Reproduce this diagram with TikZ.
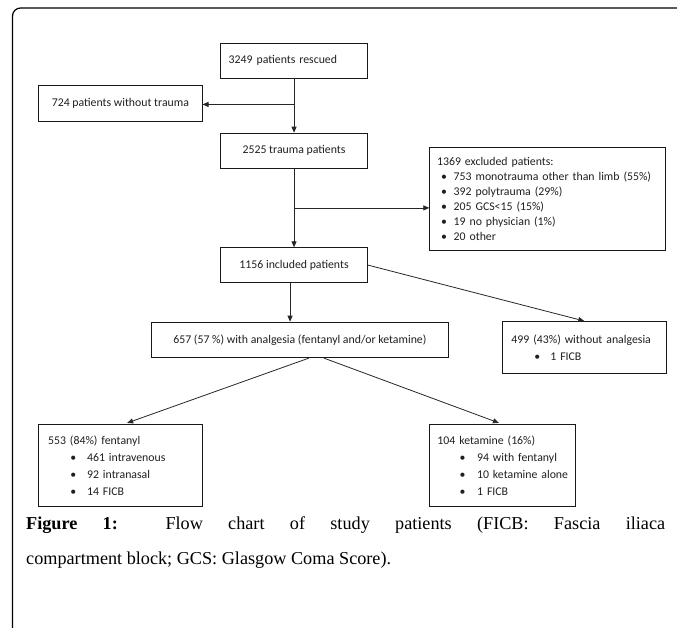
\documentclass[tikz,border=0pt]{standalone}
\usepackage{fontspec}
\setmainfont{Liberation Serif}
\newfontfamily\boxfont{Carlito}
\usetikzlibrary{arrows.meta,calc}
\newcommand{\bl}[3]{\mbox{\hspace*{#1pt}\makebox[#2pt][l]{•}#3}}
\begin{document}
\begin{tikzpicture}[x=1pt,y=-1pt,
  fbox/.style={draw=black!90,line width=0.8pt,anchor=north west,inner ysep=0pt,inner xsep=0pt,
    text=black!88},
  sz/.style 2 args={minimum width=#1pt,minimum height=#2pt},
  lft/.style 2 args={inner xsep=#1pt,text width=#2pt,align=left},
  bfont/.style={font=\boxfont\fontsize{11.8}{#1}\selectfont},
  arr/.style={draw=black!85,line width=0.8pt,-{Triangle[length=6pt,width=5pt]}},
  outerframe/.style={draw=black,line width=1.2pt,rounded corners=8pt},
  captext/.style={anchor=base west,inner sep=0pt,font=\fontsize{18.2}{22}\selectfont}
]
\useasboundingbox (0,0) rectangle (677,627);
\draw[outerframe] (12.5,660) -- (12.5,8) -- (700,8);

% boxes
\node[fbox,bfont=15,sz={146.7}{34.8},lft={8}{130.7}] (A) at (220.3,42.7) {3249 patients rescued};
\node[fbox,bfont=15,sz={163.4}{35.7}] (B) at (38.3,85) {724 patients without trauma};
\node[fbox,bfont=15,sz={146.7}{35}] (T) at (220.3,132.7) {2525 trauma patients};
\node[fbox,bfont=15,sz={235.7}{102.7},lft={7.4}{220.9}] (E) at (429.3,147.3)
  {1369 excluded patients:\\
   \bl{4}{12.6}{753 monotrauma other than limb (55\%)}\\
   \bl{4}{12.6}{392 polytrauma (29\%)}\\
   \bl{4}{12.6}{205 GCS<15 (15\%)}\\
   \bl{4}{12.6}{19 no physician (1\%)}\\
   \bl{4}{12.6}{20 other}};
\node[fbox,bfont=15,sz={146.7}{34.7}] (I) at (220.3,247.3) {1156 included patients};
\node[fbox,bfont=15,sz={297.6}{35.6}] (C) at (150.7,321.7) {657 (57 \%) with analgesia (fentanyl and/or ketamine)};
\node[fbox,bfont=16.7,sz={164.3}{52},lft={9.3}{145.7}] (D) at (501.7,321)
  {499 (43\%) without analgesia\\
   \bl{23}{16}{1 FICB}};
\node[fbox,bfont=17.2,sz={163.4}{81.7},lft={9.4}{144.6}] (F) at (38.3,424.3)
  {553 (84\%) fentanyl\\
   \bl{22.3}{16.7}{461 intravenous}\\
   \bl{22.3}{16.7}{92 intranasal}\\
   \bl{22.3}{16.7}{14 FICB}};
\node[fbox,bfont=17.2,sz={146}{81.7},lft={7.7}{130.6}] (G) at (429.3,424.3)
  {104 ketamine (16\%)\\
   \bl{22.3}{17.4}{94 with fentanyl}\\
   \bl{22.3}{17.4}{10 ketamine alone}\\
   \bl{22.3}{17.4}{1 FICB}};

% connectors
\draw[arr] (A) -- (T);
\draw[arr] ([yshift=-1.2pt]A.south |- B.east) -- ([yshift=-1.2pt]B.east);
\draw[arr] (T) -- (I);
\draw[arr] ($(T.south)!0.5!(I.north)$) coordinate (br) -- (br -| E.west);
\draw[arr] ([xshift=-4pt]I.south) -- ([xshift=-4pt]I.south |- C.north);
\draw[arr] (I.east) -- (D.north);
\draw[arr,shorten >=4pt] ([xshift=9pt]C.south) -- ([xshift=3pt]F.north);
\draw[arr,shorten >=4pt] ([xshift=24pt]C.south) -- (G.north);

% caption
\node[captext] (cap1) at (26,529) {\makebox[639pt][s]{\textbf{Figure 1:} Flow chart of study patients (FICB: Fascia iliaca}};
\node[captext] (cap2) at (26,564) {compartment block; GCS: Glasgow Coma Score).};
\end{tikzpicture}
\end{document}
